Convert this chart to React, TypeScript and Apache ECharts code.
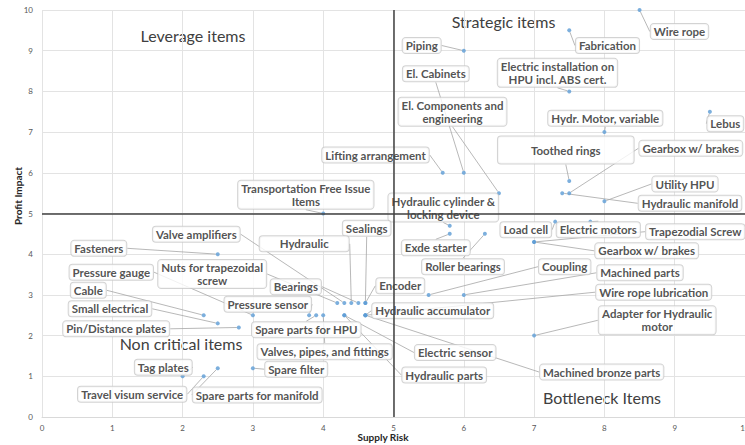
import React, { useEffect, useRef } from "react";
import * as echarts from "echarts";

// ---- data ----
const items: string[] = [
  "Wire rope", "Fabrication", "Piping", "El. Cabinets",
  "Electric installation on\nHPU incl. ABS cert.", "El. Components and\nengineering",
  "Hydr. Motor, variable", "Lebus", "Lifting arrangement", "Toothed rings",
  "Gearbox w/ brakes", "Utility HPU", "Hydraulic manifold",
  "Transportation Free Issue\nItems", "Hydraulic cylinder &\nlocking device", "Sealings",
  "Exde starter", "Load cell", "Electric motors", "Trapezodial Screw",
  "Gearbox w/ brakes", "Roller bearings", "Valve amplifiers", "Hydraulic",
  "Fasteners", "Pressure gauge", "Nuts for trapezoidal\nscrew", "Cable",
  "Bearings", "Encoder", "Coupling", "Machined parts", "Small electrical",
  "Pressure sensor", "Hydraulic accumulator", "Wire rope lubrication",
  "Adapter for Hydraulic\nmotor", "Pin/Distance plates", "Spare parts for HPU",
  "Valves, pipes, and fittings", "Electric sensor", "Tag plates", "Spare filter",
  "Hydraulic parts", "Machined bronze parts", "Travel visum service",
  "Spare parts for manifold",
];

const supplyRisk: number[] = [
  8.5, 7.5, 6, 6,
  7.5, 6.5,
  8, 9.5, 5.7, 7.5,
  7.5, 8, 7.4,
  4, 5.8, 4.6,
  5.8, 7.3, 7.8, 7,
  7, 6.3, 4.3, 4.4,
  2.5, 3, 4.2, 2.3,
  4.5, 4.6, 5.5, 6, 2.5,
  3.8, 4.6, 4.6,
  7, 2.8, 3.9,
  4, 4.3, 2, 3,
  4.3, 4.6, 2.3,
  2.5,
];

const profitImpact: number[] = [
  10, 9.5, 9, 6,
  8, 5.5,
  7, 7.5, 6, 5.8,
  5.5, 5.3, 5.5,
  5, 4.7, 2.8,
  4.5, 4.8, 4.8, 4.3,
  4.3, 4.5, 2.8, 2.8,
  4, 2.5, 2.8, 2.5,
  2.8, 2.8, 3, 3, 2.3,
  2.5, 2.5, 2.5,
  2, 2.2, 2.5,
  2.5, 2.5, 1, 1.2,
  2.5, 2.5, 1,
  1.2,
];

const quadrantTitles: string[] = ["Leverage items", "Strategic items", "Non critical items", "Bottleneck Items"];
const xAxisTitle = "Supply Risk";
const yAxisTitle = "Profit Impact";

// ---- layout (pixel centres of the callout boxes, in the same order as items) ----
const labelCenters: [number, number][] = [
  [679.5, 31.5], [607.5, 45.5], [421.7, 45.5], [435.8, 73.8],
  [557.5, 72.8], [452.5, 111.7],
  [605.3, 118.3], [725.3, 123.7], [375.5, 155], [565.8, 150],
  [690.8, 148.3], [685, 184], [690, 203.3],
  [305.8, 194.7], [443.3, 207.5], [366.7, 228.3],
  [435.8, 247.8], [525.8, 229.7], [598.3, 229.7], [695.3, 231.7],
  [646.7, 250.8], [463, 266.7], [196.3, 234.2], [304.2, 243.8],
  [98.8, 248.3], [111.3, 272.2], [212.2, 274], [88.3, 290.3],
  [295.8, 286.7], [400.3, 285.8], [564.7, 266.7], [640, 272.8], [110, 308.8],
  [267.8, 304.2], [432.7, 310.8], [653.7, 292.2],
  [657.2, 320.3], [116.2, 328.8], [306.3, 329.7],
  [324.7, 351.7], [455.2, 352.5], [163.3, 367.2], [296.2, 369.2],
  [444.2, 375], [601.7, 372], [132.2, 394.2],
  [257.2, 395],
];
const paddingOverrides: Record<number, number[]> = {
  9: [7, 33],
  23: [1, 20],
};
const quadrantCenters: [number, number][] = [[193, 35], [503.5, 21], [181, 343], [602, 397]];

const FONT = "Lato";

export default function App() {
  const ref = useRef<HTMLDivElement>(null);
  useEffect(() => {
    document.body.style.margin = "0";
    if (!ref.current) return;
    const chart = echarts.init(ref.current, undefined, { renderer: "svg" });

    const data = items.map((name, i) => {
      const d: any = { name, value: [supplyRisk[i], profitImpact[i]] };
      if (paddingOverrides[i]) d.label = { padding: paddingOverrides[i] };
      return d;
    });

    const graphics: any[] = quadrantTitles.map((t, i) => ({
      type: "text",
      x: quadrantCenters[i][0],
      y: quadrantCenters[i][1],
      silent: true,
      style: {
        text: t,
        fontFamily: FONT,
        fontSize: 16,
        fill: "#404040",
        align: "center",
        verticalAlign: "middle",
      },
    }));
    graphics.push({
      type: "text",
      x: 383,
      y: 437,
      style: {
        text: xAxisTitle, fontFamily: FONT, fontSize: 10, fontWeight: "bold",
        fill: "#262626", align: "center", verticalAlign: "middle",
      },
    });
    graphics.push({
      type: "text",
      x: 18,
      y: 196,
      rotation: Math.PI / 2,
      style: {
        text: yAxisTitle, fontFamily: FONT, fontSize: 10, fontWeight: "bold",
        fill: "#262626", align: "center", verticalAlign: "middle",
      },
    });

    chart.setOption({
      animation: false,
      backgroundColor: "#ffffff",
      grid: { left: 42, right: 0, top: 10, bottom: 28, outerBoundsMode: "none", containLabel: false },
      xAxis: {
        type: "value",
        min: 0,
        max: 10,
        interval: 1,
        axisLine: { show: true, lineStyle: { color: "#d9d9d9" } },
        axisTick: { show: false },
        axisLabel: { fontFamily: FONT, fontSize: 8, color: "#595959", margin: 7 },
        splitLine: { show: true, lineStyle: { color: "#e3e3e3", width: 1 } },
      },
      yAxis: {
        type: "value",
        min: 0,
        max: 10,
        interval: 1,
        axisLine: { show: false },
        axisTick: { show: false },
        axisLabel: { fontFamily: FONT, fontSize: 8, color: "#595959", margin: 9 },
        splitLine: { show: true, lineStyle: { color: "#e3e3e3", width: 1 } },
      },
      graphic: graphics,
      series: [
        {
          type: "scatter",
          symbol: "circle",
          symbolSize: 4,
          itemStyle: { color: "#5b9bd5" },
          data,
          label: {
            show: true,
            formatter: "{b}",
            fontFamily: FONT,
            fontSize: 11.5,
            fontWeight: "bold",
            lineHeight: 13,
            color: "#262626",
            backgroundColor: "#ffffff",
            borderColor: "#c8c8c8",
            borderWidth: 1,
            borderRadius: 3,
            padding: [1, 3],
            align: "center",
          },
          labelLine: {
            show: true,
            lineStyle: { color: "#a6a6a6", width: 0.8 },
          },
          labelLayout: (params: any) => {
            const c = labelCenters[params.dataIndex];
            return { x: c[0], y: c[1], align: "center", verticalAlign: "middle" };
          },
          markLine: {
            silent: true,
            symbol: ["none", "none"],
            label: { show: false },
            lineStyle: { color: "#404040", width: 1.5, type: "solid" },
            data: [{ xAxis: 5 }, { yAxis: 5 }],
          },
          z: 3,
        },
      ],
    });
    return () => chart.dispose();
  }, []);
  return <div ref={ref} style={{ width: 745, height: 445 }} />;
}
